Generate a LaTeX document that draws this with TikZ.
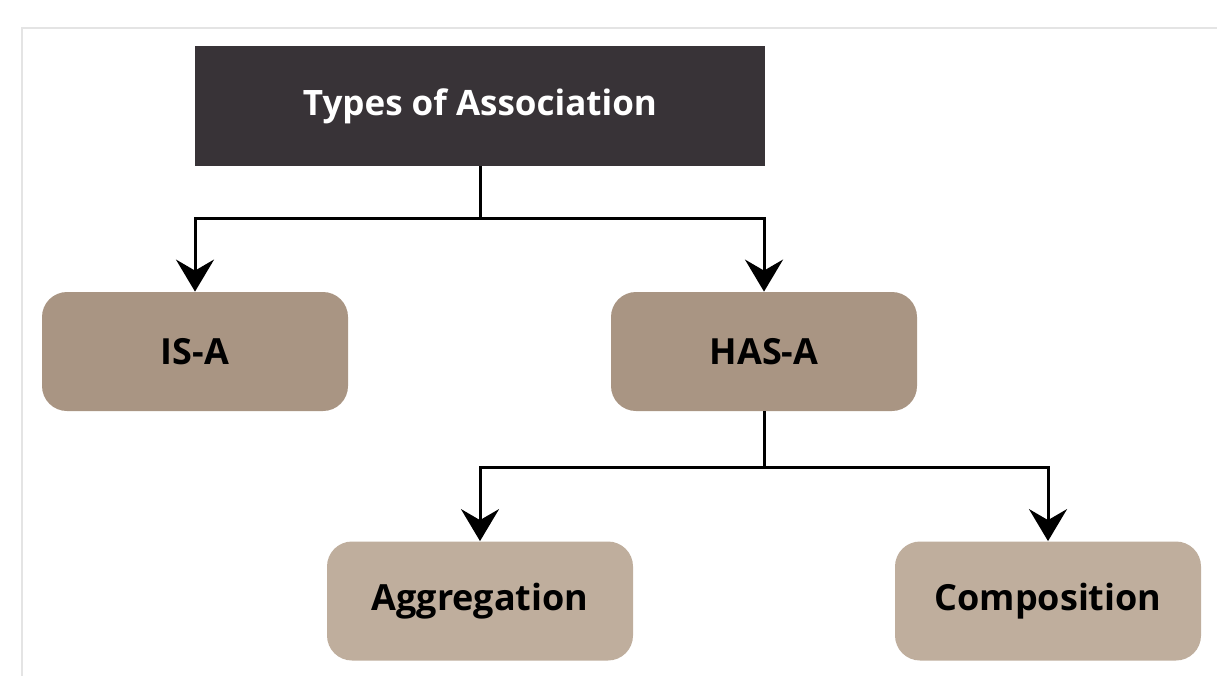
\documentclass[tikz,border=0pt]{standalone}
\usepackage{fontspec}
\setmainfont{Open Sans}
\usepackage{tikz}
\usetikzlibrary{positioning,arrows.meta}
\definecolor{headdark}{HTML}{383337}
\definecolor{tanmid}{HTML}{A99583}
\definecolor{tanlight}{HTML}{BFAE9D}
\definecolor{framegray}{HTML}{E4E4E4}

\begin{document}
\begin{tikzpicture}[x=0.5pt,y=-0.5pt,
  head/.style={fill=headdark,text=white,align=center,minimum width=285pt,
               minimum height=60pt,font=\fontsize{17.5}{21}\selectfont\bfseries},
  kind/.style={rounded corners=12.5pt,align=center,minimum width=153pt,
               minimum height=59.5pt,font=\fontsize{18}{22}\selectfont\bfseries},
  link/.style={line width=1.5pt},
  arrow/.style={link,-{Stealth[length=16pt,width=19pt,inset=5.5pt]}}
]
  \useasboundingbox (0,0) rectangle (1218,676);
  \draw[framegray,line width=0.8pt] (22,676) -- (22,28) -- (1217,28);
  \node[head] (assoc) at (480,106) {Types of Association};
  \node[kind,fill=tanmid] (isa) at (195,351.5) {IS-A};
  \node[kind,fill=tanmid] (hasa) at (764,351.5) {HAS-A};
  \node[kind,fill=tanlight] (aggr) at (480,601) {Aggregation};
  \node[kind,fill=tanlight] (comp) at (1048,601) {Composition};
  \coordinate (split1) at (480,218);
  \coordinate (split2) at (764,467);
  \draw[link] (assoc) -- (split1);
  \draw[arrow] (split1) -| (isa);
  \draw[arrow] (split1) -| (hasa);
  \draw[link] (hasa) -- (split2);
  \draw[arrow] (split2) -| (aggr);
  \draw[arrow] (split2) -| (comp);
\end{tikzpicture}
\end{document}
